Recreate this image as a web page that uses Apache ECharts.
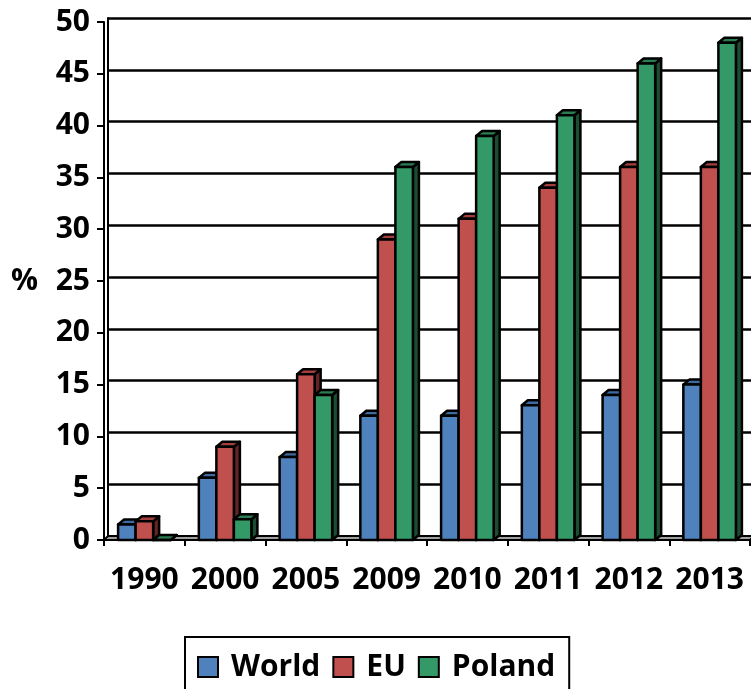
<!DOCTYPE html>
<html>
<head>
<meta charset="utf-8">
<script src="https://cdn.jsdelivr.net/npm/echarts@6/dist/echarts.min.js"></script>
<style>
  html, body { margin: 0; padding: 0; background: #fff; }
  #chart { width: 751px; height: 689px; }
</style>
</head>
<body>
<div id="chart"></div>
<script>
// data
const years = ['1990', '2000', '2005', '2009', '2010', '2011', '2012', '2013'];
const world = [1.5, 6, 8, 12, 12, 13, 14, 15];
const eu = [1.8, 9, 16, 29, 31, 34, 36, 36];
const poland = [0, 2, 14, 36, 39, 41, 46, 48];

const FONT = '"Open Sans", "Noto Sans", sans-serif';
const colors = {
  World: { front: '#4f81bd', top: '#3f6aa0', side: '#27446b' },
  EU: { front: '#c0504d', top: '#a3403d', side: '#632523' },
  Poland: { front: '#339966', top: '#2a7d53', side: '#1b4d33' }
};

// fake 3d bar: front face + top + right side, all placed from the axes
function bar3d(slot, c) {
  return (params, api) => {
    const cat = api.value(0);
    const base = api.coord([cat, 0]);
    const top = api.coord([cat, api.value(1)]);
    const w = api.size([1, 0])[0] * 0.217;
    const x0 = base[0] - 1.5 * w + slot * w;
    const x1 = x0 + w;
    const y0 = base[1], y1 = top[1];
    const dx = 6, dy = 5;
    const line = { stroke: '#000', lineWidth: 2.5, lineJoin: 'round' };
    return {
      type: 'group',
      children: [
        { type: 'polygon', shape: { points: [[x1, y1], [x1 + dx, y1 - dy], [x1 + dx, y0 - dy], [x1, y0]] },
          style: Object.assign({ fill: c.side }, line) },
        { type: 'polygon', shape: { points: [[x0, y1], [x0 + dx, y1 - dy], [x1 + dx, y1 - dy], [x1, y1]] },
          style: Object.assign({ fill: c.top }, line) },
        { type: 'rect', shape: { x: x0, y: y1, width: w, height: y0 - y1 },
          style: Object.assign({ fill: c.front }, line) }
      ]
    };
  };
}

function floor(params, api) {
  const bw = api.size([1, 0])[0];
  const l = api.coord([0, 0]);
  const r = api.coord([years.length - 1, 0]);
  const x0 = l[0] - bw / 2, x1 = r[0] + bw / 2, y = l[1];
  return {
    type: 'polygon',
    shape: { points: [[x0, y], [x0 + 4, y - 4], [x1 + 4, y - 4], [x1, y]] },
    style: { fill: '#a0a0a0', stroke: '#000', lineWidth: 2 }
  };
}

const chart = echarts.init(document.getElementById('chart'));

const labelStyle = { color: '#000', fontFamily: FONT, fontWeight: 'bold', fontSize: 30 };

chart.setOption({
  animation: false,
  textStyle: { fontFamily: FONT },
  grid: [
    { left: 104, top: 22, width: 646, height: 518 },
    { left: 108, top: 18, width: 646, height: 518 }
  ],
  xAxis: [
    {
      type: 'category', gridIndex: 0, data: years,
      axisLine: { lineStyle: { color: '#000', width: 2 } },
      axisTick: { show: true, length: 6, lineStyle: { color: '#000', width: 2 } },
      axisLabel: Object.assign({ margin: 25, interval: 0 }, labelStyle),
      z: 1
    },
    {
      type: 'category', gridIndex: 1, data: years,
      axisLine: { show: false }, axisTick: { show: false }, axisLabel: { show: false }
    }
  ],
  yAxis: [
    {
      type: 'value', gridIndex: 0, min: 0, max: 50, interval: 5,
      name: '%', nameLocation: 'middle', nameRotate: 0, nameGap: 66,
      nameTextStyle: labelStyle,
      axisLine: { show: true, lineStyle: { color: '#000', width: 2 } },
      axisTick: { show: true, length: 7, lineStyle: { color: '#000', width: 2 } },
      axisLabel: Object.assign({ margin: 14 }, labelStyle),
      splitLine: { show: false }
    },
    {
      type: 'value', gridIndex: 1, min: 0, max: 50, interval: 5,
      axisLine: { show: true, lineStyle: { color: '#000', width: 2 } },
      axisTick: { show: false }, axisLabel: { show: false },
      splitLine: { show: true, lineStyle: { color: '#000', width: 2.5 } }
    }
  ],
  legend: {
    data: ['World', 'EU', 'Poland'],
    left: 185, top: 637,
    orient: 'horizontal',
    itemWidth: 20, itemHeight: 20, itemGap: 12,
    padding: [12, 14, 40, 12],
    borderColor: '#000', borderWidth: 2,
    icon: 'rect',
    textStyle: Object.assign({ lineHeight: 36, padding: [0, 0, 0, 8] }, labelStyle)
  },
  series: [
    {
      name: 'floor', type: 'custom', xAxisIndex: 0, yAxisIndex: 0,
      data: [[0, 0]], renderItem: floor, clip: false, silent: true, z: 1
    },
    {
      name: 'World', type: 'custom', xAxisIndex: 0, yAxisIndex: 0,
      data: world.map((v, i) => [i, v]), encode: { x: 0, y: 1 },
      renderItem: bar3d(0, colors.World), clip: false, z: 3,
      itemStyle: { color: colors.World.front, borderColor: '#000', borderWidth: 1.5 }
    },
    {
      name: 'EU', type: 'custom', xAxisIndex: 0, yAxisIndex: 0,
      data: eu.map((v, i) => [i, v]), encode: { x: 0, y: 1 },
      renderItem: bar3d(1, colors.EU), clip: false, z: 3,
      itemStyle: { color: colors.EU.front, borderColor: '#000', borderWidth: 1.5 }
    },
    {
      name: 'Poland', type: 'custom', xAxisIndex: 0, yAxisIndex: 0,
      data: poland.map((v, i) => [i, v]), encode: { x: 0, y: 1 },
      renderItem: bar3d(2, colors.Poland), clip: false, z: 3,
      itemStyle: { color: colors.Poland.front, borderColor: '#000', borderWidth: 1.5 }
    }
  ]
});
</script>
</body>
</html>
